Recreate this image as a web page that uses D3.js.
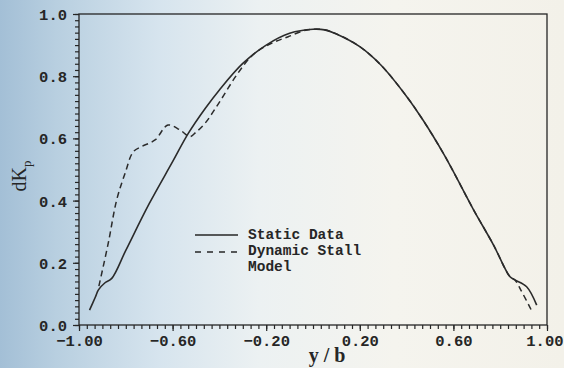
<!DOCTYPE html>
<html>
<head>
<meta charset="utf-8">
<script src="https://cdn.jsdelivr.net/npm/d3@7"></script>
<style>
  html, body { margin: 0; padding: 0; }
  body { width: 564px; height: 368px; overflow: hidden; }
  svg { display: block; }
</style>
</head>
<body>
<svg id="chart" width="564" height="368"></svg>
<script>
// spanwise position y/b and dKp
const staticX = [-0.955, -0.93, -0.917, -0.89, -0.86, -0.80, -0.70, -0.60, -0.533, -0.46, -0.40, -0.30, -0.20, -0.10, 0.0, 0.05, 0.10, 0.20, 0.29, 0.40, 0.47, 0.557, 0.60, 0.685, 0.771, 0.842, 0.863, 0.913, 0.956];
const staticY = [0.048, 0.09, 0.113, 0.135, 0.150, 0.24, 0.39, 0.525, 0.616, 0.697, 0.756, 0.841, 0.900, 0.938, 0.951, 0.949, 0.936, 0.895, 0.836, 0.735, 0.659, 0.552, 0.493, 0.372, 0.258, 0.155, 0.145, 0.123, 0.064];

const dynX = [-0.915, -0.875, -0.839, -0.803, -0.768, -0.732, -0.675, -0.62, -0.568, -0.526, -0.50, -0.462, -0.397, -0.326, -0.255, -0.177, -0.106, -0.041, 0.0, 0.05, 0.10, 0.20, 0.29, 0.40, 0.47, 0.557, 0.60, 0.685, 0.771, 0.842, 0.863, 0.89, 0.935];
const dynY = [0.125, 0.263, 0.402, 0.488, 0.557, 0.574, 0.595, 0.643, 0.627, 0.606, 0.62, 0.648, 0.72, 0.804, 0.870, 0.906, 0.927, 0.946, 0.951, 0.949, 0.936, 0.895, 0.836, 0.735, 0.659, 0.552, 0.493, 0.372, 0.258, 0.155, 0.145, 0.11, 0.045];

const xTicks = [-1.0, -0.6, -0.2, 0.2, 0.6, 1.0];
const yTicks = [0.0, 0.2, 0.4, 0.6, 0.8, 1.0];
const legendLabels = ['Static Data', 'Dynamic Stall', 'Model'];

const svg = d3.select('#chart');
const W = 564, H = 368;
const m = { left: 79, right: 547, top: 14, bottom: 325 };
const ink = '#262626';
const mono = "'Liberation Mono', 'DejaVu Sans Mono', monospace";

// paper background, blue tint on the left like the scan
const defs = svg.append('defs');
const grad = defs.append('linearGradient').attr('id', 'paper').attr('x1', 0).attr('x2', 1).attr('y1', 0).attr('y2', 0);
[[0, '#a3bfd6'], [0.1, '#b8cfe0'], [0.28, '#d6e4ee'], [0.46, '#ecf1f2'], [0.7, '#f5f4ee'], [1, '#f3f1e9']]
  .forEach(([o, c]) => grad.append('stop').attr('offset', o).attr('stop-color', c));
svg.append('rect').attr('width', W).attr('height', H).attr('fill', 'url(#paper)');

const x = d3.scaleLinear().domain([-1, 1]).range([m.left, m.right]);
const y = d3.scaleLinear().domain([0, 1]).range([m.bottom, m.top]);

// frame
svg.append('rect')
  .attr('x', m.left).attr('y', m.top)
  .attr('width', m.right - m.left).attr('height', m.bottom - m.top)
  .attr('fill', 'none').attr('stroke', ink).attr('stroke-width', 1.3);

// minor ticks
const xMinor = d3.range(0, 61).map((i) => -1 + i / 30);
const yMinor = d3.range(0, 51).map((i) => i / 50);

const gx = svg.append('g').attr('transform', `translate(0,${m.bottom})`)
  .call(d3.axisBottom(x).tickValues(xMinor).tickSize(4).tickFormat(''));
const gy = svg.append('g').attr('transform', `translate(${m.left},0)`)
  .call(d3.axisLeft(y).tickValues(yMinor).tickSize(4).tickFormat(''));

// major ticks with labels
const gxMaj = svg.append('g').attr('transform', `translate(0,${m.bottom})`)
  .call(d3.axisBottom(x).tickValues(xTicks).tickSize(6).tickPadding(4)
    .tickFormat((d) => d3.format('.2f')(d).replace('-', '\u2212')));
const gyMaj = svg.append('g').attr('transform', `translate(${m.left},0)`)
  .call(d3.axisLeft(y).tickValues(yTicks).tickSize(6).tickPadding(6)
    .tickFormat(d3.format('.1f')));

[gx, gy, gxMaj, gyMaj].forEach((g) => {
  g.select('.domain').remove();
  g.selectAll('line').attr('stroke', ink).attr('stroke-width', 1.2);
  g.selectAll('text').attr('fill', ink)
    .style('font-family', mono).style('font-weight', 'bold').style('font-size', '15.5px');
});
gyMaj.selectAll('text').attr('dy', '0.35em');
// last label sits against the page edge
gxMaj.selectAll('.tick text').filter((d) => d === 1).attr('text-anchor', 'end').attr('x', 16);

// axis titles
svg.append('text')
  .attr('x', 327).attr('y', 362)
  .attr('text-anchor', 'middle')
  .attr('fill', ink)
  .style('font-family', "'Liberation Serif', serif").style('font-weight', 'bold').style('font-size', '20px')
  .text('y / b');

const yt = svg.append('text')
  .attr('transform', 'translate(26,176) rotate(-90)')
  .attr('text-anchor', 'middle')
  .attr('fill', ink)
  .style('font-family', "'Liberation Serif', serif").style('font-size', '20px');
yt.append('tspan').text('dK');
yt.append('tspan').attr('dy', 5).style('font-size', '13px').text('p');

// curves
const line = d3.line().x((d) => x(d[0])).y((d) => y(d[1])).curve(d3.curveCatmullRom.alpha(0.5));

svg.append('path')
  .datum(staticX.map((v, i) => [v, staticY[i]]))
  .attr('d', line)
  .attr('fill', 'none').attr('stroke', '#2b2b2b').attr('stroke-width', 1.6);

svg.append('path')
  .datum(dynX.map((v, i) => [v, dynY[i]]))
  .attr('d', line)
  .attr('fill', 'none').attr('stroke', '#2b2b2b').attr('stroke-width', 1.5)
  .attr('stroke-dasharray', '6,4');

// legend
const lg = svg.append('g').attr('transform', 'translate(195,235)');
lg.append('line').attr('x1', 0).attr('x2', 43).attr('y1', 0).attr('y2', 0)
  .attr('stroke', ink).attr('stroke-width', 1.5);
lg.append('line').attr('x1', 0).attr('x2', 43).attr('y1', 17).attr('y2', 17)
  .attr('stroke', ink).attr('stroke-width', 1.5).attr('stroke-dasharray', '6,6');
lg.selectAll('text.leg')
  .data(legendLabels)
  .join('text')
  .attr('class', 'leg')
  .attr('x', 53)
  .attr('y', (d, i) => 4 + i * 16)
  .attr('fill', ink)
  .style('font-family', mono).style('font-weight', 'bold').style('font-size', '14.5px')
  .text((d) => d);
</script>
</body>
</html>
